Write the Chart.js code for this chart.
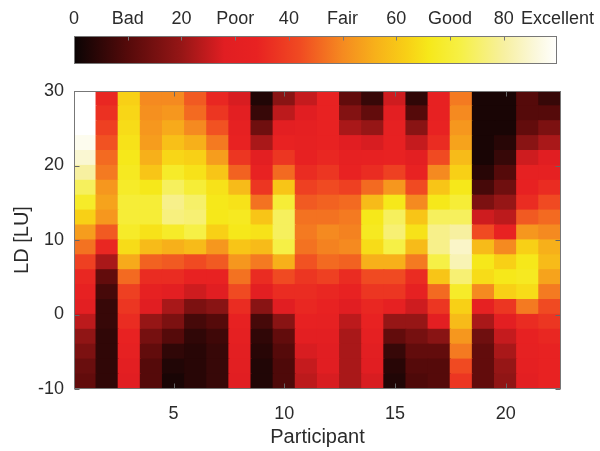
<!DOCTYPE html>
<html>
<head>
<meta charset="utf-8">
<script src="https://cdn.jsdelivr.net/npm/chart.js@4.4.1/dist/chart.umd.min.js"></script>
<style>
  html, body { margin: 0; padding: 0; background: #ffffff; }
  #wrap { position: relative; width: 600px; height: 451px; overflow: hidden; }
  #cb { position: absolute; left: 0; top: 0; }
  #hm { position: absolute; left: 0; top: 80px; }
</style>
</head>
<body>
<div id="wrap">
  <canvas id="cb" width="600" height="80"></canvas>
  <canvas id="hm" width="600" height="371"></canvas>
</div>
<script>
// ---------------- DATA ----------------
const participants = ['1','2','3','4','5','6','7','8','9','10','11','12','13','14','15','16','17','18','19','20','21','22'];
const xTickLabels = ['5','10','15','20'];
const yTickValues = [-10, 0, 10, 20, 30];
// LD row centres (LU), bottom to top, each row 2 LU tall
const ldCenters = [-9,-7,-5,-3,-1,1,3,5,7,9,11,13,15,17,19,21,23,25,27,29];
// colour-bar scale
const cbTickValues = [0,10,20,30,40,50,60,70,80,90];
const cbTickLabels = ['0','Bad','20','Poor','40','Fair','60','Good','80','Excellent'];

// Rating per participant, one value per LD row (bottom -> top)
const p1  = [12,13,16,19,24,30,33,35,40,47,53,62,68,74,80,85,88,90,90,90];
const p2  = [5,5,5,5,6,6,8,12,22,35,44,52,54,52,48,46,43,40,37,35];
const p3  = [28,30,32,34,36,38,40,46,55,64,68,70,70,68,67,66,65,64,63,62];
const p4  = [10,10,12,15,20,28,32,36,45,58,65,70,70,66,60,56,53,52,51,50];
const p5  = [2,3,5,10,16,22,30,36,44,56,68,77,78,74,68,63,59,55,52,50];
const p6  = [4,4,4,5,8,16,26,34,42,58,72,76,75,70,65,62,56,50,46,44];
const p7  = [6,6,6,7,10,18,28,34,44,52,62,66,66,65,60,53,48,43,38,35];
const p8  = [28,29,30,31,33,36,42,47,52,60,66,67,65,58,45,38,34,32,30,27];
const p9  = [3,3,4,5,8,18,30,36,48,58,65,60,47,38,34,30,22,14,6,3];
const p10 = [9,9,10,12,18,28,36,42,56,72,74,74,70,60,46,38,34,30,24,18];
const p11 = [24,25,27,30,33,35,36,38,43,47,48,47,44,40,36,33,32,31,28,25];
const p12 = [27,28,28,30,32,34,35,40,46,49,50,47,45,42,38,35,34,34,34,34];
const p13 = [22,22,22,22,24,28,34,36,45,50,49,48,46,40,34,32,28,22,17,12];
const p14 = [27,28,29,31,34,35,38,42,56,64,67,66,58,46,36,33,27,20,12,6];
const p15 = [3,4,6,12,20,32,38,42,56,72,76,74,66,52,40,34,33,32,30,26];
const p16 = [9,10,12,15,20,26,32,36,48,58,65,60,50,42,34,30,25,18,10,5];
const p17 = [10,10,12,18,30,38,46,60,72,78,78,74,66,60,50,42,36,34,33,33];
const p18 = [38,42,48,52,58,62,68,76,82,84,80,74,70,66,62,58,54,52,50,48];
const p19 = [12,12,12,14,22,32,50,64,66,58,42,26,16,8,4,2,2,2,2,2];
const p20 = [19,20,22,25,30,38,62,66,62,50,34,24,20,14,10,6,4,2,2,2];
const p21 = [30,31,32,33,36,48,64,67,66,62,52,44,36,33,32,26,18,12,10,10];
const p22 = [34,34,34,35,38,42,48,54,58,56,50,46,42,36,32,28,22,16,10,6];
const ratings = [p1,p2,p3,p4,p5,p6,p7,p8,p9,p10,p11,p12,p13,p14,p15,p16,p17,p18,p19,p20,p21,p22];

// ---------------- STYLE ----------------
const FONT = "'Liberation Sans', Arial, Helvetica, sans-serif";
const TXT = '#2b2b2b';
const cmapStops = [
  [0,  [10,4,4]],
  [10, [85,10,10]],
  [20, [150,22,22]],
  [28, [225,30,34]],
  [34, [232,34,34]],
  [42, [240,74,34]],
  [50, [245,138,32]],
  [56, [247,176,26]],
  [62, [248,208,22]],
  [66, [246,232,26]],
  [72, [246,240,70]],
  [80, [247,240,160]],
  [86, [251,248,220]],
  [90, [255,255,255]]
];
const CMAX = 90;
function cmap(v) {
  v = Math.max(0, Math.min(CMAX, v));
  for (let i = 1; i < cmapStops.length; i++) {
    const [v1, c1] = cmapStops[i];
    const [v0, c0] = cmapStops[i-1];
    if (v <= v1) {
      const t = (v - v0) / (v1 - v0);
      const c = c0.map((a, k) => Math.round(a + (c1[k] - a) * t));
      return `rgb(${c[0]},${c[1]},${c[2]})`;
    }
  }
  return 'rgb(255,255,255)';
}
const rowHalf = (ldCenters[1] - ldCenters[0]) / 2;

const boxTicks = {
  id: 'boxTicks',
  afterDatasetsDraw(chart, args, opts) {
    const {ctx, chartArea: a} = chart;
    const L = opts.length || 5;
    ctx.save();
    ctx.strokeStyle = opts.color || '#666';
    ctx.lineWidth = 1;
    const l = Math.round(a.left) + 0.5, r = Math.round(a.right) - 0.5;
    const t = Math.round(a.top) + 0.5, b = Math.round(a.bottom) - 0.5;
    if (opts.x) {
      const s = chart.scales.x;
      opts.x.forEach(v => {
        const px = Math.round(s.getPixelForValue(v)) + 0.5;
        ctx.beginPath();
        if (opts.xBottom) { ctx.moveTo(px, b); ctx.lineTo(px, b - L); }
        if (opts.xTop) { ctx.moveTo(px, t); ctx.lineTo(px, t + L); }
        ctx.stroke();
      });
    }
    if (opts.y) {
      const s = chart.scales.y;
      opts.y.forEach(v => {
        const py = Math.round(s.getPixelForValue(v)) + 0.5;
        ctx.beginPath();
        ctx.moveTo(l, py); ctx.lineTo(l + L, py);
        ctx.moveTo(r, py); ctx.lineTo(r - L, py);
        ctx.stroke();
      });
    }
    ctx.strokeStyle = opts.frame || '#777';
    ctx.strokeRect(l, t, r - l, b - t);
    ctx.restore();
  }
};

// ---------------- COLOUR BAR ----------------
new Chart(document.getElementById('cb'), {
  type: 'bar',
  data: {
    labels: ['cb'],
    datasets: [{
      data: [[cbTickValues[0], cbTickValues[cbTickValues.length - 1]]],
      backgroundColor: (c) => {
        const area = c.chart.chartArea;
        if (!area) return '#000';
        const g = c.chart.ctx.createLinearGradient(area.left, 0, area.right, 0);
        cmapStops.forEach(([v]) => g.addColorStop(v / CMAX, cmap(v)));
        return g;
      },
      borderWidth: 0,
      barPercentage: 1,
      categoryPercentage: 1
    }]
  },
  options: {
    indexAxis: 'y',
    responsive: false,
    animation: false,
    layout: { padding: { left: 74, right: 39, top: 0, bottom: 16 } },
    plugins: {
      legend: { display: false },
      tooltip: { enabled: false },
      boxTicks: { x: cbTickValues.slice(1, -1), xTop: true, xBottom: false, length: 4, color: '#777', frame: '#777' }
    },
    scales: {
      x: {
        type: 'linear', position: 'top', min: 0, max: CMAX,
        afterFit: s => { s.height = 36; },
        grid: { display: false, drawTicks: false },
        border: { display: false },
        ticks: {
          stepSize: 10, autoSkip: false, maxRotation: 0, padding: 6,
          color: TXT, font: { family: FONT, size: 18 },
          callback: v => { const i = cbTickValues.indexOf(v); return i >= 0 ? cbTickLabels[i] : ''; }
        }
      },
      y: { display: false }
    }
  },
  plugins: [boxTicks]
});

// ---------------- HEAT MAP ----------------
const datasets = ldCenters.map((c, r) => ({
  data: participants.map(() => [c - rowHalf, c + rowHalf]),
  backgroundColor: ratings.map(col => cmap(col[r])),
  borderWidth: 0,
  inflateAmount: 0.6,
  grouped: false,
  barPercentage: 1,
  categoryPercentage: 1
}));

new Chart(document.getElementById('hm'), {
  type: 'bar',
  data: { labels: participants, datasets },
  options: {
    responsive: false,
    animation: false,
    layout: { padding: { left: 0, right: 39, top: 11, bottom: 0 } },
    plugins: {
      legend: { display: false },
      tooltip: { enabled: false },
      boxTicks: {
        x: xTickLabels.map(l => participants.indexOf(l)), xTop: true, xBottom: true,
        y: yTickValues, length: 5, color: '#666', frame: '#777'
      }
    },
    scales: {
      x: {
        type: 'category',
        afterFit: s => { s.height = 62; s.paddingLeft = 0; s.paddingRight = 0; },
        grid: { display: false, drawTicks: false },
        border: { display: false },
        ticks: {
          autoSkip: false, maxRotation: 0, minRotation: 0, padding: 14,
          color: TXT, font: { family: FONT, size: 18 },
          callback: (v, i) => xTickLabels.includes(participants[i]) ? participants[i] : ''
        },
        title: {
          display: true, text: 'Participant', color: TXT,
          font: { family: FONT, size: 20 }, padding: { top: 0, bottom: 2 }
        }
      },
      y: {
        type: 'linear', min: yTickValues[0], max: yTickValues[yTickValues.length - 1],
        afterFit: s => { s.width = 74; s.paddingTop = 0; s.paddingBottom = 0; },
        grid: { display: false, drawTicks: false },
        border: { display: false },
        ticks: {
          stepSize: 10, padding: 10, color: TXT, font: { family: FONT, size: 18 }
        },
        title: {
          display: true, text: 'LD [LU]', color: TXT,
          font: { family: FONT, size: 20 }, padding: { top: 10, bottom: 0 }
        }
      }
    }
  },
  plugins: [boxTicks]
});
</script>
</body>
</html>
